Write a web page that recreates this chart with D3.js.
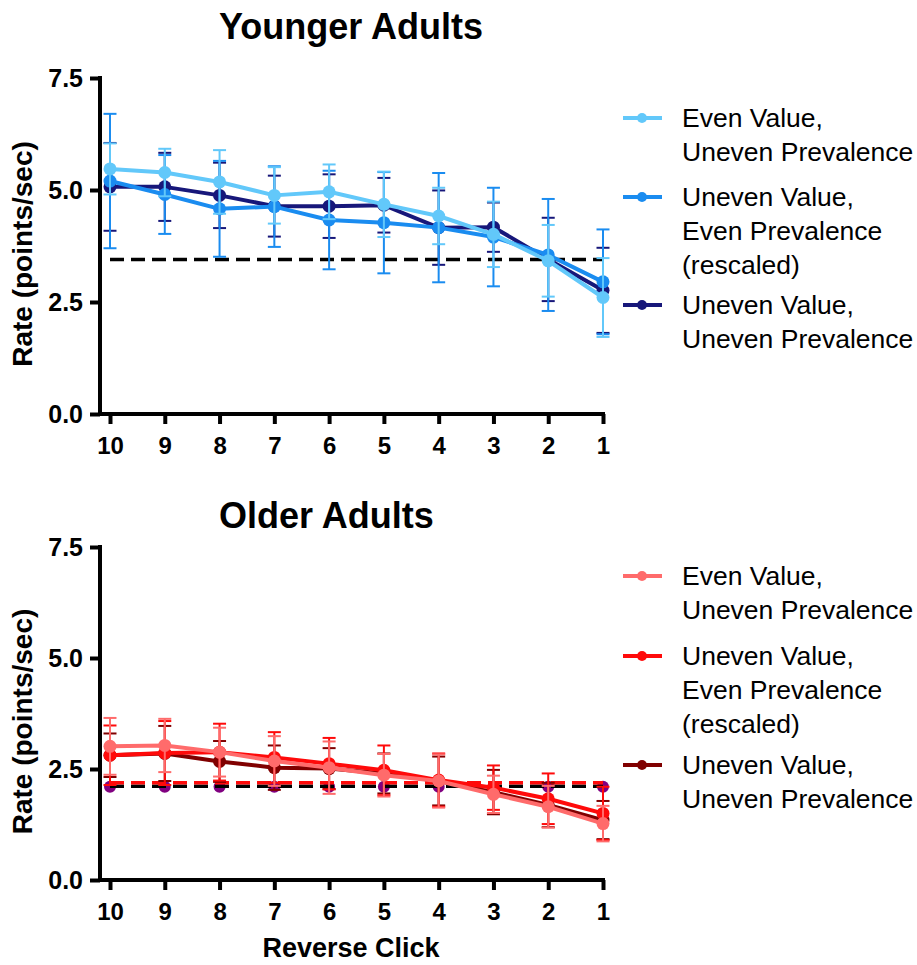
<!DOCTYPE html>
<html><head><meta charset="utf-8">
<script src="https://cdn.jsdelivr.net/npm/d3@7"></script>
<style>
body{margin:0;background:#fff;}
svg{display:block;font-family:"Liberation Sans",Arial,Helvetica,sans-serif;}
</style></head>
<body><svg id="c" width="917" height="965"></svg>
<script>
// ---------- data ----------
const clicks = [10, 9, 8, 7, 6, 5, 4, 3, 2, 1];
const yTicks = [0, 2.5, 5, 7.5];
const seriesNames = [
  ["Even Value,", "Uneven Prevalence"],
  ["Uneven Value,", "Even Prevalence", "(rescaled)"],
  ["Uneven Value,", "Uneven Prevalence"]
];

// Younger adults
const youngEvenValUnevenPrev      = [5.47, 5.39, 5.18, 4.88, 4.96, 4.68, 4.42, 4.01, 3.42, 2.60];
const youngEvenValUnevenPrevErr   = [0.57, 0.53, 0.71, 0.63, 0.61, 0.73, 0.63, 0.73, 0.80, 0.88];
const youngUnevenValEvenPrev      = [5.20, 4.90, 4.58, 4.63, 4.33, 4.27, 4.16, 3.95, 3.55, 2.95];
const youngUnevenValEvenPrevErr   = [1.50, 0.88, 1.07, 0.90, 1.10, 1.13, 1.22, 1.10, 1.25, 1.17];
const youngUnevenValUnevenPrev    = [5.07, 5.07, 4.88, 4.64, 4.64, 4.66, 4.16, 4.17, 3.45, 2.76];
const youngUnevenValUnevenPrevErr = [0.98, 0.76, 0.73, 0.68, 0.71, 0.61, 0.83, 0.55, 0.93, 0.95];
const youngReference = 3.45;

// Older adults
const oldEvenValUnevenPrev      = [3.01, 3.03, 2.88, 2.68, 2.53, 2.36, 2.23, 1.93, 1.65, 1.27];
const oldEvenValUnevenPrevErr   = [0.64, 0.60, 0.55, 0.56, 0.59, 0.48, 0.60, 0.42, 0.47, 0.40];
const oldUnevenValEvenPrev      = [2.81, 2.86, 2.88, 2.76, 2.62, 2.47, 2.25, 2.08, 1.83, 1.50];
const oldUnevenValEvenPrevErr   = [0.67, 0.72, 0.64, 0.57, 0.58, 0.56, 0.60, 0.50, 0.57, 0.60];
const oldUnevenValUnevenPrev    = [2.81, 2.85, 2.67, 2.53, 2.51, 2.40, 2.23, 1.98, 1.69, 1.35];
const oldUnevenValUnevenPrevErr = [0.49, 0.62, 0.46, 0.50, 0.46, 0.45, 0.55, 0.50, 0.50, 0.43];
const oldChanceDots = [2.10, 2.10, 2.10, 2.10, 2.10, 2.10, 2.10, 2.10, 2.10, 2.10];
const oldReferenceRed = 2.19;
const oldReferenceBlack = 2.11;

// ---------- layout ----------
const svg = d3.select("#c");
const xLeft = 100, xRight = 605;
const x = d3.scalePoint().domain(clicks).range([110, 603]);

const panels = [
  {
    title: "Younger Adults", titleY: 39, top: 78, bottom: 414,
    legendY: [118, 197, 305],
    series: [
      {v: youngUnevenValUnevenPrev, e: youngUnevenValUnevenPrevErr, c: "#17177a", leg: 2},
      {v: youngUnevenValEvenPrev,   e: youngUnevenValEvenPrevErr,   c: "#1a8cf0", leg: 1},
      {v: youngEvenValUnevenPrev,   e: youngEvenValUnevenPrevErr,   c: "#62c8fa", leg: 0}
    ],
    refs: [{v: youngReference, c: "#000"}],
    dots: null
  },
  {
    title: "Older Adults", titleY: 528, top: 547, bottom: 880,
    legendY: [576, 656, 765],
    series: [
      {v: oldUnevenValUnevenPrev, e: oldUnevenValUnevenPrevErr, c: "#800000", leg: 2},
      {v: oldUnevenValEvenPrev,   e: oldUnevenValEvenPrevErr,   c: "#ff0a0a", leg: 1},
      {v: oldEvenValUnevenPrev,   e: oldEvenValUnevenPrevErr,   c: "#ff6b6b", leg: 0}
    ],
    refs: [{v: oldReferenceBlack, c: "#000"}, {v: oldReferenceRed, c: "#ff0a0a"}],
    dots: {v: oldChanceDots, c: "#800080"}
  }
];

panels.forEach(p => {
  const y = d3.scaleLinear().domain([0, 7.5]).range([p.bottom, p.top]);
  const g = svg.append("g");

  // title
  g.append("text").attr("x", 219).attr("y", p.titleY)
    .attr("font-size", 36).attr("font-weight", "bold").text(p.title);

  // y axis
  const ya = g.append("g").attr("transform", `translate(${xLeft},0)`)
    .call(d3.axisLeft(y).tickValues(yTicks).tickFormat(d3.format(".1f")).tickSize(10).tickSizeOuter(0).tickPadding(7));
  ya.select(".domain").remove();
  ya.selectAll(".tick line").attr("stroke", "#000").attr("stroke-width", 4);
  ya.selectAll("text").attr("font-size", 25).attr("font-weight", "bold").attr("fill", "#000")
    .attr("font-family", "Liberation Sans, Arial, sans-serif");
  g.append("line").attr("x1", xLeft).attr("x2", xLeft).attr("y1", y(7.5) - 2).attr("y2", y(0) + 2)
    .attr("stroke", "#000").attr("stroke-width", 4);

  // x axis
  const xa = g.append("g").attr("transform", `translate(0,${y(0)})`)
    .call(d3.axisBottom(x).tickSize(10).tickSizeOuter(0).tickPadding(13));
  xa.select(".domain").remove();
  xa.selectAll(".tick line").attr("stroke", "#000").attr("stroke-width", 4);
  xa.selectAll("text").attr("font-size", 24).attr("font-weight", "bold").attr("fill", "#000")
    .attr("font-family", "Liberation Sans, Arial, sans-serif");
  g.append("line").attr("x1", xLeft - 2).attr("x2", xRight).attr("y1", y(0)).attr("y2", y(0))
    .attr("stroke", "#000").attr("stroke-width", 4);

  // y-axis title
  g.append("text").attr("transform", `translate(32,${(p.top + p.bottom) / 2 + 8}) rotate(-90)`)
    .attr("text-anchor", "middle").attr("font-size", 28).attr("font-weight", "bold")
    .text("Rate (points/sec)");

  // chance dots
  if (p.dots) {
    g.append("g").selectAll("circle").data(p.dots.v).join("circle")
      .attr("cx", (d, i) => x(clicks[i])).attr("cy", d => y(d)).attr("r", 6).attr("fill", p.dots.c);
  }
  // reference dashed lines
  p.refs.forEach(r => {
    g.append("line").attr("x1", x(clicks[0])).attr("x2", x(clicks[clicks.length - 1]))
      .attr("y1", y(r.v)).attr("y2", y(r.v))
      .attr("stroke", r.c).attr("stroke-width", 3.5).attr("stroke-dasharray", "14,7");
  });

  // series
  const line = d3.line().x((d, i) => x(clicks[i])).y(d => y(d));
  p.series.forEach(s => {
    const sg = g.append("g");
    s.v.forEach((v, i) => {
      const cx = x(clicks[i]);
      const hi = y(v + s.e[i]), lo = y(v - s.e[i]);
      sg.append("line").attr("x1", cx).attr("x2", cx).attr("y1", hi).attr("y2", lo)
        .attr("stroke", s.c).attr("stroke-width", 2);
      [hi, lo].forEach(yy => sg.append("line").attr("x1", cx - 6.5).attr("x2", cx + 6.5)
        .attr("y1", yy).attr("y2", yy).attr("stroke", s.c).attr("stroke-width", 2));
    });
    sg.append("path").datum(s.v).attr("d", line).attr("fill", "none")
      .attr("stroke", s.c).attr("stroke-width", 4).attr("stroke-linejoin", "round");
    sg.selectAll("circle").data(s.v).join("circle")
      .attr("cx", (d, i) => x(clicks[i])).attr("cy", d => y(d)).attr("r", 6.5).attr("fill", s.c);

    // legend
    const ly = p.legendY[s.leg];
    const lg = g.append("g");
    lg.append("line").attr("x1", 623).attr("x2", 662).attr("y1", ly).attr("y2", ly)
      .attr("stroke", s.c).attr("stroke-width", 4);
    lg.append("circle").attr("cx", 642).attr("cy", ly).attr("r", 5).attr("fill", s.c);
    seriesNames[s.leg].forEach((t, k) => {
      lg.append("text").attr("x", 682).attr("y", ly + 9 + k * 34)
        .attr("font-size", 26.5).attr("fill", "#000").text(t);
    });
  });
});

// x-axis title
svg.append("text").attr("x", 351).attr("y", 957).attr("text-anchor", "middle")
  .attr("font-size", 27).attr("font-weight", "bold").text("Reverse Click");
</script>
</body></html>
